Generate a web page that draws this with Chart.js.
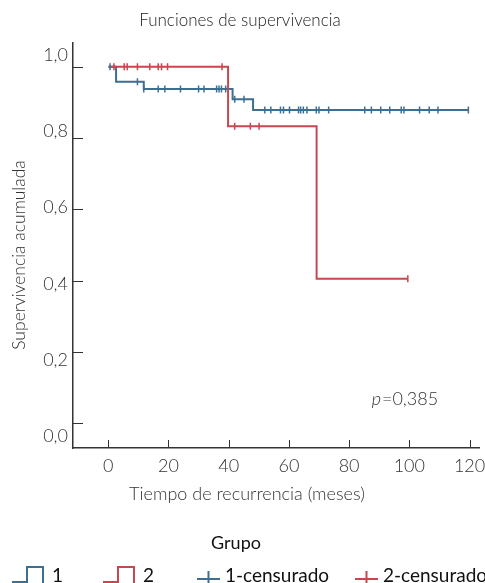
<!DOCTYPE html>
<html><head><meta charset="utf-8">
<script src="https://cdn.jsdelivr.net/npm/chart.js@4.4.1/dist/chart.umd.min.js"></script>
<style>html,body{margin:0;padding:0;background:#fff;}#wrap{width:485px;height:583px;}</style>
</head><body><div id="wrap"><canvas id="c" width="485" height="583"></canvas></div>
<script>
const chartTitle = 'Funciones de supervivencia';
const xAxisTitle = 'Tiempo de recurrencia (meses)';
const yAxisTitle = 'Supervivencia acumulada';
const legendTitle = 'Grupo';
const seriesLabels = ['1', '2', '1-censurado', '2-censurado'];
const pValueLabel = '=0,385';

const xTicks = [0, 20, 40, 60, 80, 100, 120];
const yTicks = [0, 0.2, 0.4, 0.6, 0.8, 1.0];
const yTickLabels = ['0,0', '0,2', '0,4', '0,6', '0,8', '1,0'];

// Group 1 step curve (event times / survival after the step)
const group1Times = [0, 2.6, 11.8, 41.3, 48.1, 119.6];
const group1Surv  = [1, 0.958, 0.938, 0.909, 0.879, 0.879];
// Group 2 step curve
const group2Times = [0.9, 39.8, 69.2, 99.5];
const group2Surv  = [1, 0.833, 0.405, 0.405];
// Censored times
const group1Censored = [0.6, 9.7, 11.8, 16.6, 18.8, 24, 30, 31.8, 36, 36.8, 37.6, 39, 42, 45.1,
  52, 54, 57.2, 58.2, 60.2, 63.2, 63.9, 64.8, 66, 69.1, 70, 73.2, 85.2, 87.4, 90.5, 93.5,
  97.3, 98.2, 103.4, 106.6, 109.5, 119.6];
const group2Censored = [1.9, 5.3, 6.3, 9.7, 13.8, 16.6, 17.7, 19.7, 37.8, 42, 47.2, 50.1, 99.5];

const FONT = 'Lato, "Open Sans", sans-serif';
const BLUE = '#3d6f91';
const RED = '#c8464d';
const TXT = '#333333';

Chart.defaults.font.family = FONT;
Chart.defaults.font.weight = 300;
Chart.defaults.color = TXT;

function curvePoints(times, surv) { return times.map((t, i) => ({x: t, y: surv[i]})); }
function survivalAt(times, surv, t) {
  let s = surv[0];
  for (let i = 0; i < times.length; i++) { if (times[i] <= t) s = surv[i]; }
  return s;
}
function censorPoints(cens, times, surv) { return cens.map(t => ({x: t, y: survivalAt(times, surv, t)})); }

const inwardTicks = {
  id: 'inwardTicks',
  beforeDatasetsDraw(chart) {
    const {ctx, chartArea, scales} = chart;
    ctx.save();
    ctx.strokeStyle = '#333';
    ctx.lineWidth = 1;
    yTicks.forEach(v => {
      const py = Math.round(scales.y.getPixelForValue(v)) + 0.5;
      ctx.beginPath(); ctx.moveTo(chartArea.left, py); ctx.lineTo(chartArea.left + 10, py); ctx.stroke();
    });
    xTicks.forEach(v => {
      const px = Math.round(scales.x.getPixelForValue(v)) + 0.5;
      ctx.beginPath(); ctx.moveTo(px, chartArea.bottom); ctx.lineTo(px, chartArea.bottom - 8); ctx.stroke();
    });
    ctx.restore();
  }
};

const extraText = {
  id: 'extraText',
  afterDraw(chart, args, opts) {
    const {ctx, scales} = chart;
    ctx.save();
    const px = scales.x.getPixelForValue(opts.pAt.x);
    const py = scales.y.getPixelForValue(opts.pAt.y);
    ctx.fillStyle = TXT;
    ctx.textBaseline = 'middle';
    ctx.textAlign = 'left';
    ctx.font = 'italic 300 18px ' + FONT;
    ctx.fillText('p', px, py);
    const pw = ctx.measureText('p').width;
    ctx.font = '300 18px ' + FONT;
    ctx.fillText(pValueLabel, px + pw + 1, py);
    ctx.textAlign = 'center';
    ctx.font = '300 18px ' + FONT;
    ctx.fillText(xAxisTitle, opts.xTitle.x, opts.xTitle.y);
    ctx.translate(opts.yTitle.x, opts.yTitle.y);
    ctx.rotate(-Math.PI / 2);
    ctx.font = '300 17.5px ' + FONT;
    ctx.fillText(yAxisTitle, 0, 0);
    ctx.restore();
  }
};

const groupLegend = {
  id: 'groupLegend',
  afterDraw(chart, args, opts) {
    const {ctx} = chart;
    const ds = chart.data.datasets;
    ctx.save();
    ctx.fillStyle = '#111';
    ctx.textAlign = 'center';
    ctx.textBaseline = 'middle';
    ctx.font = '18px ' + FONT;
    ctx.fillText(legendTitle, opts.titleX, opts.titleY);
    ctx.font = '19px ' + FONT;
    ctx.textAlign = 'left';
    const y = opts.itemY;
    ds.forEach((d, i) => {
      const sx = opts.itemX[i];
      ctx.strokeStyle = d.borderColor;
      ctx.lineWidth = 2;
      let tx;
      if (d.legendKind === 'step') {
        ctx.beginPath();
        ctx.moveTo(sx, y + 7); ctx.lineTo(sx + 15, y + 7);
        ctx.lineTo(sx + 15, y - 8); ctx.lineTo(sx + 31, y - 8); ctx.lineTo(sx + 31, y + 14);
        ctx.stroke();
        tx = sx + 40;
      } else {
        ctx.beginPath();
        ctx.moveTo(sx, y + 4); ctx.lineTo(sx + 23, y + 4);
        ctx.moveTo(sx + 11.5, y - 4); ctx.lineTo(sx + 11.5, y + 12);
        ctx.stroke();
        tx = sx + 28;
      }
      ctx.fillStyle = '#111';
      ctx.fillText(d.label, tx, y + 1);
    });
    ctx.restore();
  }
};

new Chart(document.getElementById('c'), {
  type: 'line',
  data: {
    datasets: [
      {label: seriesLabels[0], legendKind: 'step', data: curvePoints(group1Times, group1Surv), stepped: true,
       borderColor: BLUE, borderWidth: 2, pointRadius: 0, fill: false, order: 3},
      {label: seriesLabels[1], legendKind: 'step', data: curvePoints(group2Times, group2Surv), stepped: true,
       borderColor: RED, borderWidth: 2, pointRadius: 0, fill: false, order: 2},
      {label: seriesLabels[2], legendKind: 'cross', data: censorPoints(group1Censored, group1Times, group1Surv),
       showLine: false, pointStyle: 'line', rotation: 90, pointRadius: 3.5, borderColor: BLUE, borderWidth: 1.5, order: 1},
      {label: seriesLabels[3], legendKind: 'cross', data: censorPoints(group2Censored, group2Times, group2Surv),
       showLine: false, pointStyle: 'line', rotation: 90, pointRadius: 3.5, borderColor: RED, borderWidth: 1.5, order: 0}
    ]
  },
  options: {
    responsive: false,
    animation: false,
    devicePixelRatio: 1,
    layout: {padding: {left: 0, right: 5, top: 0, bottom: 107}},
    scales: {
      x: {
        type: 'linear', min: -11.7, max: 123.3,
        afterBuildTicks: s => { s.ticks = xTicks.map(v => ({value: v})); },
        afterFit: s => { s.height = 28; s.paddingRight = 0; s.paddingLeft = 0; },
        grid: {display: false, drawTicks: false, tickLength: 0},
        border: {display: true, color: '#333', width: 1.5},
        ticks: {padding: 7, font: {size: 18}, color: TXT, maxRotation: 0}
      },
      y: {
        type: 'linear', min: -0.0701, max: 1.0687, display: false
      },
      yl: {
        type: 'linear', position: 'left', min: -0.0315, max: 1.0341,
        afterBuildTicks: s => { s.ticks = yTicks.map(v => ({value: v})); },
        afterFit: s => { s.width = 73; },
        grid: {display: false, drawTicks: false, tickLength: 0},
        border: {display: true, color: '#333', width: 1.5},
        ticks: {padding: 5, font: {size: 18}, color: TXT, callback: (v, i) => yTickLabels[i]}
      }
    },
    plugins: {
      legend: {display: false},
      tooltip: {enabled: false},
      title: {display: true, text: chartTitle, font: {size: 17, weight: 300}, color: '#222',
              padding: {top: 10, bottom: 12}},
      extraText: {pAt: {x: 87.5, y: 0.067}, xTitle: {x: 247, y: 494}, yTitle: {x: 19, y: 255}},
      groupLegend: {titleX: 236, titleY: 543, itemY: 575, itemX: [12, 103, 197, 355]}
    }
  },
  plugins: [inwardTicks, extraText, groupLegend]
});
</script>
</body></html>
